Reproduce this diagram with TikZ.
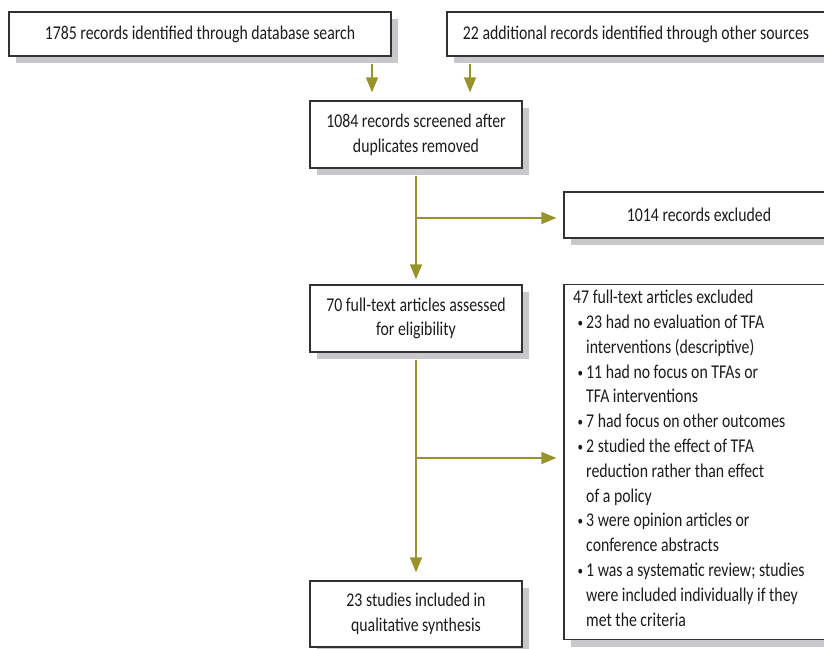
\documentclass[tikz,border=0pt]{standalone}
\usepackage{fontspec}
\setmainfont{Carlito}[FakeStretch=0.81]
\usetikzlibrary{arrows.meta,shadows,calc}
\definecolor{olive}{RGB}{152,148,44}
\definecolor{shade}{RGB}{200,200,202}
\definecolor{ink}{RGB}{30,27,28}
\definecolor{edge}{RGB}{50,50,50}
\newcommand\bul{\makebox[13pt][r]{\raisebox{1pt}{\scalebox{0.7}{•}}\hspace{3pt}}}
\newcommand\ind{\hspace*{13pt}}
\tikzset{
  box/.style={draw=edge,line width=1.2pt,fill=white,text=ink,inner sep=0pt,
    align=center,font=\fontsize{19.5}{24.8}\selectfont,
    drop shadow={shadow xshift=7pt,shadow yshift=-7pt,fill=shade,opacity=1}},
  arr/.style={draw=olive,line width=1.5pt,-{Triangle[width=12pt,length=15pt]}},
  ln/.style={draw=olive,line width=1.5pt}
}
\begin{document}
\begin{tikzpicture}[x=1pt,y=-1pt]
\useasboundingbox (0,0) rectangle (824,648);
\fill[white] (0,0) rectangle (824,648);
\clip (0,0) rectangle (824,648);
\node[box,minimum width=382pt,minimum height=44pt] (b1) at (200,34) {1785 records identified through database search};
\node[box,minimum width=378pt,minimum height=44pt] (b2) at (636,34) {22 additional records identified through other sources};
\node[box,minimum width=212pt,minimum height=67pt] (b3) at (416,134.5) {1084 records screened after\\duplicates removed};
\node[box,minimum width=270pt,minimum height=46pt] (b6) at (699,215) {1014 records excluded};
\node[box,minimum width=212pt,minimum height=67pt] (b4) at (416,318.5) {70 full-text articles assessed\\for eligibility};
\node[box,minimum width=270pt,minimum height=355pt] (b7) at (699,462) {};
\node[box,minimum width=212pt,minimum height=66pt] (b5) at (416,614) {23 studies included in\\qualitative synthesis};
\node[anchor=north west,inner sep=0pt,align=left,text=ink,font=\fontsize{19.5}{24.8}\selectfont] (t7) at (573,290)
{47 full-text articles excluded\\
\bul 23 had no evaluation of TFA\\
\ind interventions (descriptive)\\
\bul 11 had no focus on TFAs or\\
\ind TFA interventions\\
\bul 7 had focus on other outcomes\\
\bul 2 studied the effect of TFA\\
\ind reduction rather than effect\\
\ind of a policy\\
\bul 3 were opinion articles or\\
\ind conference abstracts\\
\bul 1 was a systematic review; studies\\
\ind were included individually if they\\
\ind met the criteria};
\coordinate (a1) at ($(b3.north)+(-44,0)$);
\coordinate (a2) at ($(b3.north)+(54,0)$);
\coordinate (j1) at (416,218);
\coordinate (j2) at (416,458);
\draw[arr,shorten <=7pt,shorten >=8pt] (a1 |- b1.south) -- (a1);
\draw[arr,shorten <=7pt,shorten >=8pt] (a2 |- b2.south) -- (a2);
\draw[arr,shorten <=7pt,shorten >=5pt] (b3.south) -- (b4.north);
\draw[arr,shorten >=7pt] (j1) -- (j1 -| b6.west);
\draw[arr,shorten <=7pt,shorten >=8pt] (b4.south) -- (b5.north);
\draw[arr,shorten >=7pt] (j2) -- (j2 -| b7.west);
\end{tikzpicture}
\end{document}
